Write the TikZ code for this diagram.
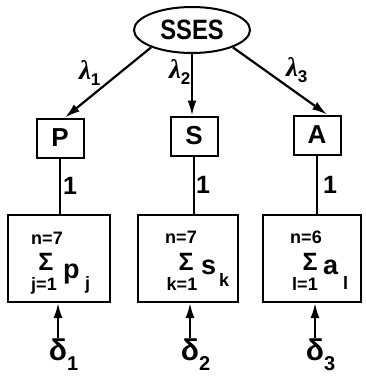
\documentclass[tikz,border=0pt]{standalone}
\usepackage{fontspec}
\usepackage{graphicx}
\setmainfont{Liberation Sans}
\newfontfamily\greekserif{Liberation Serif}
\usetikzlibrary{shapes.geometric,arrows.meta}
\begin{document}
\begin{tikzpicture}[x=1pt,y=-1pt,
  fs/.style={font=\bfseries\fontsize{#1}{#1}\selectfont},
  boxa/.style={draw,line width=2pt,inner sep=0pt},
  ln/.style={line width=2.2pt},
  arr/.style={line width=2.2pt,-{Latex[length=15pt,width=9pt]}},
  lab/.style={fs=#1,inner sep=0pt,anchor=base},
  labw/.style={fs=#1,inner sep=0pt,anchor=base west}]
\useasboundingbox (0,0) rectangle (365,380);

% top ellipse
\node[ellipse,draw,line width=2pt,minimum width=116pt,minimum height=46pt,inner sep=0pt,fs=28] (sses) at (192,30) {\scalebox{0.85}[1]{SSES}};

% first-level boxes
\node[boxa,minimum width=47pt,minimum height=39pt,fs=26] (P) at (60,138) {P};
\node[boxa,minimum width=47pt,minimum height=39pt,fs=26] (S) at (194,136) {S};
\node[boxa,minimum width=47pt,minimum height=39pt,fs=26] (A) at (317,135) {A};

% second-level boxes
\node[boxa,minimum width=102pt,minimum height=87pt] (pb) at (59,258.5) {};
\node[boxa,minimum width=100pt,minimum height=87pt] (sb) at (188,258.5) {};
\node[boxa,minimum width=98pt,minimum height=87pt] (ab) at (312,258.5) {};

% loadings
\draw[arr] (sses.203) -- ([xshift=5pt]P.north);
\draw[arr] (sses.south) -- (sses.south |- S.north);
\draw[arr] (sses.337) -- ([xshift=10pt]A.north);

\node[fs=27,inner sep=0pt] (l1) at (85,73) {{\greekserif\itshape λ}\rlap{\fontsize{17}{17}\selectfont\raisebox{-6pt}{1}}};
\node[fs=27,inner sep=0pt] (l2) at (175,72) {{\greekserif\itshape λ}\rlap{\fontsize{17}{17}\selectfont\raisebox{-6pt}{2}}};
\node[fs=27,inner sep=0pt] (l3) at (292,70) {{\greekserif\itshape λ}\rlap{\fontsize{17}{17}\selectfont\raisebox{-6pt}{3}}};

% fixed paths
\draw[ln] (P.south) -- (P.south |- pb.north) node[midway,right=2pt,fs=25,inner sep=0pt] (o1) {1};
\draw[ln] (S.south) -- (S.south |- sb.north) node[midway,right=1pt,fs=25,inner sep=0pt] (o2) {1};
\draw[ln] (A.south) -- (A.south |- ab.north) node[midway,right=5pt,fs=25,inner sep=0pt] (o3) {1};

% sums
\node[lab=18] (pn) at (47,244) {n=7};
\node[lab=25] (ps) at (46,270) {Σ};
\node[lab=18] (pl) at (44,290) {j=1};
\node[labw=27] (pv) at (63,278) {p};
\node[labw=18] (pi) at (85,289) {j};

\node[lab=18] (sn) at (181,243) {n=7};
\node[lab=25] (ss) at (186,270) {Σ};
\node[lab=18] (sl) at (182,290) {k=1};
\node[labw=27] (sv) at (201,274) {s};
\node[labw=18] (si) at (219,286) {k};

\node[lab=18] (an) at (306,243) {n=6};
\node[lab=25] (as) at (310,270) {Σ};
\node[lab=18] (al) at (305,290) {l=1};
\node[labw=27] (av) at (323,274) {a};
\node[labw=18] (ai) at (343,289) {l};

% errors
\node[fs=30,inner sep=1pt,anchor=north] (d1) at (58,338) {δ\rlap{\fontsize{20}{20}\selectfont\raisebox{-10pt}{1}}};
\node[fs=30,inner sep=1pt,anchor=north] (d2) at (190,338) {δ\rlap{\fontsize{20}{20}\selectfont\raisebox{-10pt}{2}}};
\node[fs=30,inner sep=1pt,anchor=north] (d3) at (315,338) {δ\rlap{\fontsize{20}{20}\selectfont\raisebox{-10pt}{3}}};
\draw[arr] (d1.north) -- (d1.north |- pb.south);
\draw[arr] (d2.north) -- (d2.north |- sb.south);
\draw[arr] (d3.north) -- (d3.north |- ab.south);
\end{tikzpicture}
\end{document}
